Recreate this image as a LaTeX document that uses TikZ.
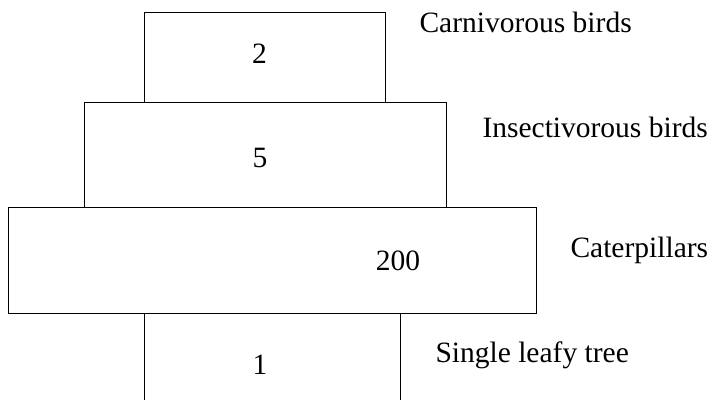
\documentclass[tikz,border=0pt]{standalone}
\usepackage{fontspec}
\setmainfont{Liberation Serif}
\begin{document}
\begin{tikzpicture}[x=1pt,y=-1pt,line width=1pt,
  num/.style={inner sep=0pt,anchor=base,font=\fontsize{29.5}{35}\selectfont},
  lbl/.style={inner sep=0pt,anchor=base west,font=\fontsize{29.5}{35}\selectfont}]
  \useasboundingbox (0,0) rectangle (709,400);
  % The levels of the pyramid
  \coordinate (A1) at (144.5,12);  \coordinate (A2) at (385.5,102);
  \coordinate (B1) at (84.5,102);  \coordinate (B2) at (446,207.5);
  \coordinate (C1) at (8.5,207.5); \coordinate (C2) at (536,313);
  \coordinate (D1) at (144.5,313); \coordinate (D2) at (400,313);
  \coordinate (D3) at (144.5,400); \coordinate (D4) at (400,400);
  \draw (A1) rectangle (A2);
  \draw (B1) rectangle (B2);
  \draw (C1) rectangle (C2);
  \draw (D3) -- (D1) -- (D2) -- (D4);
  % Numbers
  \node[num] (n2) at (259.5,63) {2};
  \node[num] (n5) at (260,167) {5};
  \node[num] (n200) at (398,270) {200};
  \node[num] (n1) at (260,374) {1};
  % Names of the levels
  \node[lbl] (carn) at (419,32) {Carnivorous birds};
  \node[lbl] (insect) at (482,137) {Insectivorous birds};
  \node[lbl] (cater) at (570,257) {Caterpillars};
  \node[lbl] (tree) at (435,362) {Single leafy tree};
\end{tikzpicture}
\end{document}
